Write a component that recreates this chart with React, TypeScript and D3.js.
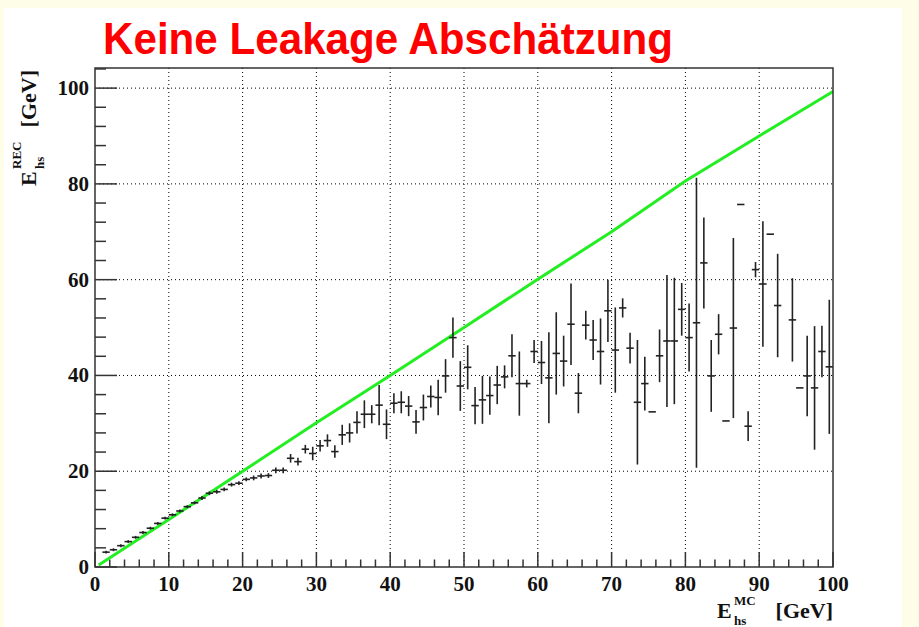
import * as d3 from 'd3';

// profile of reconstructed vs true hadron-shower energy, 1 GeV bins (null = empty bin)
const BIN_X = [
  0.5, 1.5, 2.5, 3.5, 4.5, 5.5, 6.5, 7.5, 8.5, 9.5,
  10.5, 11.5, 12.5, 13.5, 14.5, 15.5, 16.5, 17.5, 18.5, 19.5,
  20.5, 21.5, 22.5, 23.5, 24.5, 25.5, 26.5, 27.5, 28.5, 29.5,
  30.5, 31.5, 32.5, 33.5, 34.5, 35.5, 36.5, 37.5, 38.5, 39.5,
  40.5, 41.5, 42.5, 43.5, 44.5, 45.5, 46.5, 47.5, 48.5, 49.5,
  50.5, 51.5, 52.5, 53.5, 54.5, 55.5, 56.5, 57.5, 58.5, 59.5,
  60.5, 61.5, 62.5, 63.5, 64.5, 65.5, 66.5, 67.5, 68.5, 69.5,
  70.5, 71.5, 72.5, 73.5, 74.5, 75.5, 76.5, 77.5, 78.5, 79.5,
  80.5, 81.5, 82.5, 83.5, 84.5, 85.5, 86.5, 87.5, 88.5, 89.5,
  90.5, 91.5, 92.5, 93.5, 94.5, 95.5, 96.5, 97.5, 98.5, 99.5,
];

const MEAN: (number | null)[] = [
  null, 3.1, 3.6, 4.45, 5.3, 6.2, 7.2, 8.1, 9.1, 10.2,
  10.9, 11.7, 12.6, 13.4, 14.4, 15.4, 15.7, 16.2, 17.2, 17.5,
  18.3, 18.6, 19.0, 19.1, 20.2, 20.2, 22.7, 22.0, 24.6, 23.7,
  25.3, 26.4, 24.1, 27.6, 28.0, 30.2, 31.9, 31.9, 33.8, 29.8,
  34.2, 34.4, 33.6, 30.3, 33.3, 35.6, 35.4, 39.9, 47.9, 37.8,
  41.7, 33.7, 34.9, 35.8, 38.0, 39.7, 44.1, 38.3, 38.3, 45.0,
  42.7, 39.5, 44.6, 43.0, 50.7, 36.3, 50.5, 47.4, 45.0, 53.5,
  45.3, 54.1, 45.7, 34.4, 38.3, 32.4, 44.1, 47.2, 47.2, 53.8,
  47.9, 51.0, 63.5, 39.9, 48.6, 30.5, 49.9, 75.7, 29.4, 62.1,
  59.1, 69.5, 54.6, null, 51.6, 37.4, 39.9, 37.4, 45.0, 41.8,
];

const ERR = [
  0, 0.3, 0.3, 0.3, 0.3, 0.3, 0.3, 0.3, 0.3, 0.3,
  0.3, 0.3, 0.3, 0.3, 0.4, 0.4, 0.4, 0.4, 0.4, 0.4,
  0.4, 0.5, 0.5, 0.5, 0.6, 0.6, 0.9, 0.8, 0.9, 1.4,
  1.2, 1.3, 1.3, 2.1, 2.0, 2.3, 2.9, 1.9, 4.2, 3.1,
  2.1, 2.3, 2.1, 2.5, 2.7, 2.3, 3.7, 3.5, 4.2, 5.2,
  4.6, 3.9, 5.0, 4.0, 4.0, 2.4, 4.5, 6.7, 0.8, 2.4,
  4.5, 9.5, 8.6, 5.3, 8.5, 4.2, 3.0, 4.2, 6.9, 6.5,
  8.9, 2.0, 3.2, 13.0, 5.6, 0, 5.5, 13.8, 13.2, 5.5,
  7.1, 30.3, 9.5, 7.5, 4.2, 0, 18.8, 0, 3.1, 1.6,
  13.1, 0, 10.8, 0, 8.7, 0, 8.4, 12.9, 5.4, 14.0,
];

// green reference curve (true energy profile)
const REF_X = [0.5, 10, 20, 30, 40, 50, 60, 70, 80, 90, 100];
const REF_Y = [0.4, 9.9, 20, 30.1, 40, 50, 60.1, 70, 80.6, 90, 99.3];

const X_TICKS = [0, 10, 20, 30, 40, 50, 60, 70, 80, 90, 100];
const Y_TICKS = [0, 20, 40, 60, 80, 100];

const W = 919;
const H = 627;
const m = { left: 95, right: 833, top: 68, bottom: 567 };

export default function App() {
  const x = d3.scaleLinear().domain([0, 100]).range([m.left, m.right]);
  const y = d3.scaleLinear().domain([0, 104.2]).range([m.bottom, m.top]);

  const xMinor = d3.range(0, 100.01, 2);
  const yMinor = d3.range(0, 104.1, 4);

  const refLine = d3.line<number>()
    .x((_, i) => x(REF_X[i]))
    .y((d) => y(d))(REF_Y) ?? '';

  const serif = '"Liberation Serif", "DejaVu Serif", serif';
  const ink = '#222';

  return (
    <svg width={W} height={H} style={{ position: 'absolute', left: 0, top: 0 }}>
      <rect width={W} height={H} fill="#fdfde8" />
      <rect x={4} y={8} width={898} height={H - 8} fill="#ffffff" />

      <text x={103} y={54} fill="#ff0000" fontFamily='"Liberation Sans", Arial, sans-serif'
        fontWeight="bold" fontSize={45} textLength={570} lengthAdjust="spacingAndGlyphs">
        Keine Leakage Abschätzung
      </text>

      {/* grid */}
      <g stroke="#000" strokeWidth={1} strokeDasharray="1,3">
        {X_TICKS.slice(1, -1).map((t) => (
          <line key={`gx${t}`} x1={x(t)} x2={x(t)} y1={m.top} y2={m.bottom} />
        ))}
        {Y_TICKS.slice(1).map((t) => (
          <line key={`gy${t}`} x1={m.left} x2={m.right} y1={y(t)} y2={y(t)} />
        ))}
      </g>

      {/* ticks */}
      <g stroke="#333" strokeWidth={1.5}>
        {xMinor.map((t) => (
          <line key={`tx${t}`} x1={x(t)} x2={x(t)} y1={m.bottom}
            y2={m.bottom - (t % 10 === 0 ? 15 : 7.5)} />
        ))}
        {yMinor.map((t) => (
          <line key={`ty${t}`} x1={m.left} x2={m.left + (t % 20 === 0 ? 22 : 11)}
            y1={y(t)} y2={y(t)} />
        ))}
      </g>

      {/* green line */}
      <path d={refLine} fill="none" stroke="#22ee22" strokeWidth={3} />

      {/* profile points */}
      <g stroke={ink} strokeWidth={1.6}>
        {MEAN.map((v, i) => {
          if (v == null) return null;
          const cx = x(BIN_X[i]);
          return (
            <g key={i}>
              <line x1={x(BIN_X[i] - 0.5)} x2={x(BIN_X[i] + 0.5)} y1={y(v)} y2={y(v)} />
              {ERR[i] > 0 && (
                <line x1={cx} x2={cx} y1={y(v - ERR[i])} y2={y(v + ERR[i])} />
              )}
            </g>
          );
        })}
      </g>

      {/* frame */}
      <rect x={m.left} y={m.top} width={m.right - m.left} height={m.bottom - m.top}
        fill="none" stroke="#333" strokeWidth={1.5} />

      {/* tick labels */}
      <g fontFamily={serif} fontWeight="bold" fontSize={21} fill="#111">
        {X_TICKS.map((t) => (
          <text key={`lx${t}`} x={x(t)} y={591} textAnchor="middle">{t}</text>
        ))}
        {Y_TICKS.map((t) => (
          <text key={`ly${t}`} x={89} y={y(t) + 7} textAnchor="end">{t}</text>
        ))}
      </g>

      {/* axis titles */}
      <g fontFamily={serif} fontWeight="bold" fill="#111">
        <text x={717} y={618} fontSize={22}>E</text>
        <text x={734} y={605} fontSize={13}>MC</text>
        <text x={734} y={625} fontSize={13}>hs</text>
        <text x={833} y={618} fontSize={22} textAnchor="end">[GeV]</text>
      </g>
      <g fontFamily={serif} fontWeight="bold" fill="#111" transform="translate(36,186) rotate(-90)">
        <text x={0} y={0} fontSize={22}>E</text>
        <text x={17} y={-15} fontSize={13}>REC</text>
        <text x={17} y={8} fontSize={13}>hs</text>
        <text x={116} y={0} fontSize={22} textAnchor="end">[GeV]</text>
      </g>
    </svg>
  );
}
